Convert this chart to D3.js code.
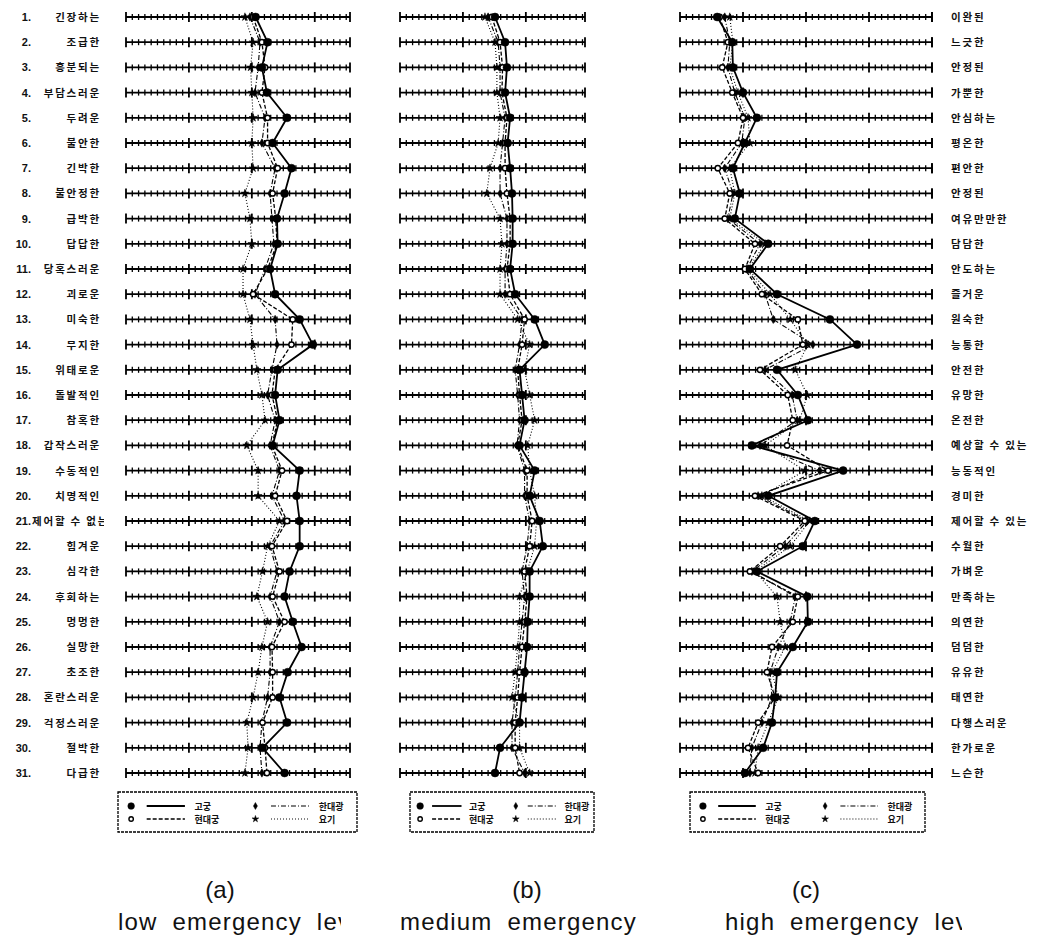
<!DOCTYPE html>
<html>
<head>
<meta charset="utf-8">
<script src="https://cdn.jsdelivr.net/npm/d3@7"></script>
<style>
  body { margin: 0; background: #fff; }
  text { fill: #111; }
</style>
</head>
<body>
<div id="chart"></div>
<script>
// row adjectives (left = negative pole, right = positive pole)
const leftWords = ["긴장하는","조급한","흥분되는","부담스러운","두려운","불안한","긴박한","불안정한","급박한","답답한",
  "당혹스러운","괴로운","미숙한","무지한","위태로운","돌발적인","참혹한","갑작스러운","수동적인","치명적인",
  "제어할 수 없는","힘겨운","심각한","후회하는","멍멍한","실망한","초조한","혼란스러운","걱정스러운","절박한","다급한"];
const rightWords = ["이완된","느긋한","안정된","가뿐한","안심하는","평온한","편안한","안정된","여유만만한","담담한",
  "안도하는","즐거운","원숙한","능통한","안전한","유망한","온전한","예상할 수 있는","능동적인","경미한",
  "제어할 수 있는","수월한","가벼운","만족하는","의연한","덤덤한","유유한","태연한","다행스러운","한가로운","느슨한"];

const seriesNames = ["고궁","현대궁","한대광","요기"];
const panelLetters = ["(a)","(b)","(c)"];
const panelTitles = ["low emergency level","medium emergency level","high emergency level"];

// (a) low emergency level
const lowSolid  = [2.06,2.25,2.16,2.24,2.56,2.33,2.63,2.52,2.40,2.41,2.29,2.37,2.76,2.97,2.41,2.37,2.44,2.33,2.76,2.71,2.76,2.76,2.60,2.52,2.65,2.79,2.57,2.44,2.56,2.17,2.52];
const lowDash   = [2.02,2.16,2.21,2.16,2.25,2.25,2.41,2.33,2.38,2.40,2.25,2.02,2.65,2.63,2.37,2.32,2.41,2.32,2.48,2.37,2.56,2.32,2.44,2.33,2.52,2.32,2.33,2.33,2.17,2.21,2.24];
const lowDashDot= [1.97,2.13,2.10,2.05,2.21,2.16,2.37,2.29,2.32,2.35,2.21,2.05,2.37,2.40,2.32,2.25,2.37,2.29,2.44,2.32,2.52,2.29,2.40,2.29,2.44,2.29,2.29,2.25,2.16,2.13,2.16];
const lowDot    = [1.89,2.02,1.98,2.00,2.02,2.00,2.02,1.89,1.97,2.00,1.86,1.86,1.97,2.02,2.08,2.16,2.21,1.92,2.10,2.10,2.44,2.25,2.17,2.08,2.25,2.16,2.10,2.02,1.92,1.94,1.89];

// (b) medium emergency level
const medSolid  = [1.51,1.67,1.70,1.67,1.75,1.71,1.75,1.78,1.79,1.79,1.75,1.83,2.14,2.30,1.90,1.94,1.98,1.90,2.14,2.06,2.22,2.27,2.06,2.06,2.03,2.02,1.98,1.94,1.90,1.59,1.51];
const medDash   = [1.46,1.59,1.63,1.62,1.70,1.67,1.67,1.70,1.75,1.75,1.70,1.75,1.98,1.94,1.87,1.90,1.94,1.87,2.02,2.02,2.10,2.06,1.98,2.02,1.98,1.94,1.90,1.87,1.83,1.83,1.90];
const medDashDot= [1.40,1.56,1.59,1.59,1.67,1.63,1.59,1.59,1.70,1.70,1.67,1.67,1.94,1.90,1.83,1.87,1.90,1.86,1.98,1.98,2.06,2.02,1.94,1.98,1.94,1.90,1.87,1.83,1.78,1.78,1.98];
const medDot    = [1.35,1.51,1.54,1.54,1.59,1.56,1.43,1.38,1.59,1.62,1.59,1.59,1.87,2.06,1.98,2.06,2.14,2.03,2.06,2.14,2.17,2.14,2.02,1.90,1.90,1.87,1.83,1.78,1.90,1.90,2.06];

// (c) high emergency level
const highSolid  = [0.59,0.83,0.84,1.00,1.22,1.03,0.84,0.95,0.87,1.40,1.11,1.54,2.38,2.81,1.54,1.87,2.03,1.14,2.59,1.40,2.14,1.95,1.22,2.02,2.03,1.79,1.54,1.51,1.46,1.32,1.03];
const highDash   = [0.63,0.76,0.67,0.83,1.00,0.92,0.60,0.79,0.71,1.19,1.03,1.30,1.87,1.95,1.27,1.71,1.79,1.70,2.35,1.19,1.98,1.59,1.11,1.87,1.79,1.46,1.38,1.51,1.24,1.08,1.24];
const highDashDot= [0.71,0.79,0.76,0.87,1.03,0.98,0.71,0.84,0.76,1.27,1.06,1.35,1.48,2.11,1.35,1.78,1.86,1.27,2.22,1.24,2.02,1.67,1.14,1.83,1.75,1.56,1.43,1.46,1.30,1.14,1.11];
const highDot    = [0.79,0.84,0.79,0.92,1.08,1.11,0.79,0.87,0.79,1.35,1.08,1.43,1.75,2.03,1.83,2.02,1.90,1.35,1.98,1.30,2.06,1.75,1.19,1.54,1.59,1.67,1.46,1.56,1.40,1.24,1.19];

const width = 1045, height = 940;
const svg = d3.select("#chart").append("svg")
  .attr("width", width).attr("height", height);

const korean = "'Noto Sans CJK KR', 'Noto Sans', sans-serif";
const latin = "'Liberation Sans Narrow', 'Liberation Sans', Arial, sans-serif";

const y = d3.scalePoint().domain(d3.range(31)).range([17, 773]);

// line style / marker per series
const styles = [
  { dash: null, w: 1.8, sym: d3.symbolCircle, size: 50, fill: "#000" },
  { dash: "4,2", w: 1.3, sym: d3.symbolCircle, size: 22, fill: "#fff" },
  { dash: "5,2,1,2", w: 1.1, sym: d3.symbolDiamond, size: 20, fill: "#000" },
  { dash: "1,2", w: 1.1, sym: d3.symbolStar, size: 20, fill: "#000" }
];

const panels = [
  { range: [126, 350], max: 3.56, series: [lowSolid, lowDash, lowDashDot, lowDot],
    legend: [118, 239], cap: 220, title: 118, clip: 341 },
  { range: [400, 585], max: 2.94, series: [medSolid, medDash, medDashDot, medDot],
    legend: [410, 184], cap: 527, title: 400, clip: 652 },
  { range: [680, 932], max: 4.0, series: [highSolid, highDash, highDashDot, highDot],
    legend: [690, 235], cap: 806, title: 725, clip: 962 }
];

const isMajor = d => Math.abs(d - Math.round(d)) < 1e-6;

panels.forEach((p, pi) => {
  const x = d3.scaleLinear().domain([0, p.max]).range(p.range);
  const g = svg.append("g");

  // scale rows with cross ticks
  const rows = g.selectAll(".row").data(d3.range(31)).enter().append("g")
    .attr("class", "row")
    .attr("transform", i => `translate(0,${y(i)})`);
  rows.append("line")
    .attr("x1", x(0)).attr("x2", x(p.max))
    .attr("stroke", "#000").attr("stroke-width", 1.8);
  const minor = d3.range(0, p.max + 1e-6, 0.1);
  rows.selectAll(".tk").data(minor).enter().append("line")
    .attr("x1", d => x(d)).attr("x2", d => x(d))
    .attr("y1", d => isMajor(d) ? -5 : -3)
    .attr("y2", d => isMajor(d) ? 5 : 3)
    .attr("stroke", "#000")
    .attr("stroke-width", d => isMajor(d) ? 1.8 : 1.3);
  rows.append("line")
    .attr("x1", x(p.max)).attr("x2", x(p.max))
    .attr("y1", -5).attr("y2", 5)
    .attr("stroke", "#000").attr("stroke-width", 1.8);

  // series lines
  p.series.forEach((vals, si) => {
    const st = styles[si];
    const line = d3.line().x(d => x(d)).y((d, i) => y(i));
    g.append("path").datum(vals)
      .attr("d", line)
      .attr("fill", "none")
      .attr("stroke", "#000")
      .attr("stroke-width", st.w)
      .attr("stroke-dasharray", st.dash);
  });
  p.series.slice().reverse().forEach((vals, ri) => {
    const st = styles[3 - ri];
    g.selectAll(null).data(vals).enter().append("path")
      .attr("d", d3.symbol().type(st.sym).size(st.size))
      .attr("transform", (d, i) => `translate(${x(d)},${y(i)})`)
      .attr("fill", st.fill)
      .attr("stroke", "#000")
      .attr("stroke-width", st.fill === "#fff" ? 1.5 : 0.5);
  });

  // legend: solid, dashed in left column; dash-dot, dotted in right column
  const [lx, lw] = p.legend;
  const lg = svg.append("g").attr("transform", `translate(${lx},792)`);
  lg.append("rect").attr("width", lw).attr("height", 40)
    .attr("fill", "#fff").attr("stroke", "#000").attr("stroke-width", 1.3)
    .attr("stroke-dasharray", "3,1");
  seriesNames.forEach((name, si) => {
    const st = styles[si];
    const c = si < 2 ? 0 : 1, r = si < 2 ? si : si - 2;
    const ox = c * lw * 0.52;
    const ly = 14 + r * 13;
    lg.append("path")
      .attr("d", d3.symbol().type(st.sym).size(st.size * 0.7))
      .attr("transform", `translate(${ox + lw * 0.055},${ly})`)
      .attr("fill", st.fill).attr("stroke", "#000")
      .attr("stroke-width", st.fill === "#fff" ? 1.4 : 0.5);
    lg.append("line")
      .attr("x1", ox + lw * 0.12).attr("x2", ox + lw * 0.28)
      .attr("y1", ly).attr("y2", ly)
      .attr("stroke", "#000").attr("stroke-width", st.w)
      .attr("stroke-dasharray", st.dash);
    lg.append("text")
      .attr("x", ox + lw * 0.32).attr("y", ly + 4)
      .attr("font-family", korean).attr("font-weight", 700)
      .attr("font-size", 9).text(name);
  });

  // captions
  svg.append("text")
    .attr("x", p.cap).attr("y", 898)
    .attr("text-anchor", "middle")
    .attr("font-family", latin)
    .attr("font-size", 24).text(panelLetters[pi]);
  svg.append("clipPath").attr("id", "cap" + pi)
    .append("rect").attr("x", 0).attr("y", 900).attr("width", p.clip).attr("height", 40);
  svg.append("text")
    .attr("clip-path", `url(#cap${pi})`)
    .attr("x", p.title).attr("y", 930)
    .attr("font-family", latin)
    .attr("font-size", 24).attr("letter-spacing", 1.2).attr("word-spacing", 7)
    .text(panelTitles[pi]);
});

// row numbers and left labels
const left = svg.append("g");
left.append("clipPath").attr("id", "lclip")
  .append("rect").attr("x", 0).attr("y", 0).attr("width", 104).attr("height", 800);
left.selectAll(".num").data(d3.range(31)).enter().append("text")
  .attr("x", 31).attr("y", i => y(i) + 4)
  .attr("text-anchor", "end")
  .attr("font-family", "'Liberation Sans', Arial, sans-serif")
  .attr("font-weight", 700).attr("font-size", 11)
  .text(i => (i + 1) + ".");
left.selectAll(".lw").data(leftWords).enter().append("text")
  .attr("clip-path", "url(#lclip)")
  .attr("x", (d, i) => i === 20 ? 32 : 101)
  .attr("y", (d, i) => y(i) + 4)
  .attr("text-anchor", (d, i) => i === 20 ? "start" : "end")
  .attr("font-family", korean).attr("font-weight", 700)
  .attr("font-size", 10.5).attr("letter-spacing", 1.8)
  .text(d => d);

// right labels
svg.append("g").selectAll("text").data(rightWords).enter().append("text")
  .attr("x", 951).attr("y", (d, i) => y(i) + 4)
  .attr("font-family", korean).attr("font-weight", 700)
  .attr("font-size", 10.5).attr("letter-spacing", 1.8)
  .text(d => d);
</script>
</body>
</html>
